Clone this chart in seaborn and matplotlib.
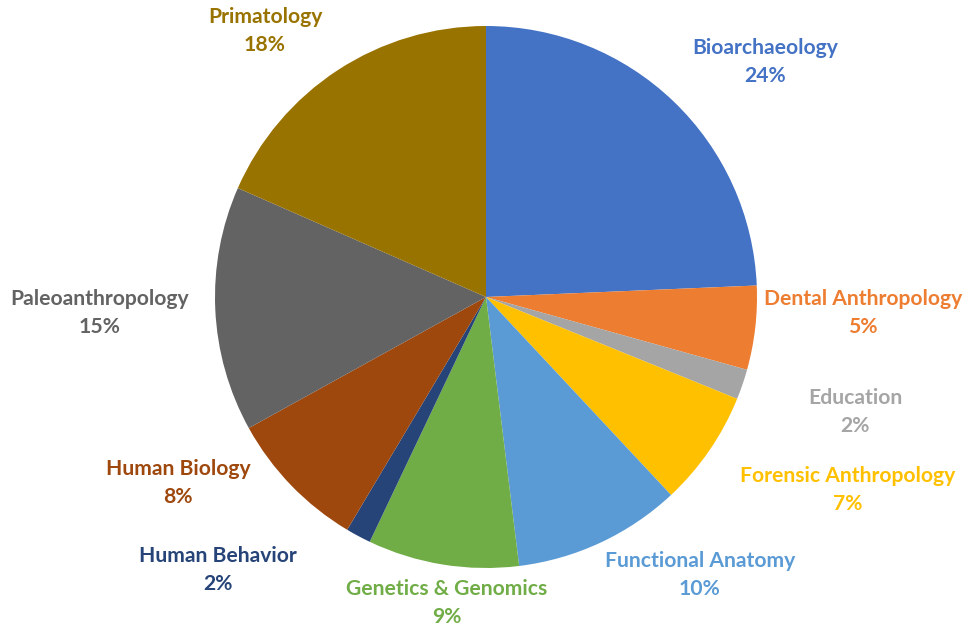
import matplotlib
matplotlib.use("Agg")
import matplotlib.pyplot as plt
import seaborn as sns

sns.set_theme(style="white")
plt.rcParams["font.family"] = ["Lato", "DejaVu Sans"]

# slice shares (clockwise from 12 o'clock)
fields = ["Bioarchaeology", "Dental Anthropology", "Education", "Forensic Anthropology",
          "Functional Anatomy", "Genetics & Genomics", "Human Behavior", "Human Biology",
          "Paleoanthropology", "Primatology"]
shares = [24.3, 5.0, 1.8, 6.9, 10.0, 9.0, 1.5, 8.4, 14.6, 18.4]
pct_labels = ["24%", "5%", "2%", "7%", "10%", "9%", "2%", "8%", "15%", "18%"]
colors = ["#4472C4", "#ED7D31", "#A5A5A5", "#FFC000", "#5B9BD5",
          "#70AD47", "#264478", "#9E480E", "#636363", "#997300"]

# label anchor points in pixel space (x, y from top)
label_pos = [(765, 62), (863, 313), (855, 412), (848, 490), (700, 575),
             (447, 603), (218, 570), (178, 483), (100, 313), (265, 31)]

W, H = 968, 633
fig = plt.figure(figsize=(W / 100, H / 100), dpi=100)
ax = fig.add_axes([0, 0, 1, 1])

ax.pie(shares, colors=colors, startangle=90, counterclock=False,
       center=(486, H - 297), radius=271,
       wedgeprops=dict(linewidth=0))

for name, pct, col, (x, y) in zip(fields, pct_labels, colors, label_pos):
    ax.text(x, H - y, f"{name}\n{pct}", color=col, fontsize=15.2, fontweight="bold",
            ha="center", va="center", linespacing=1.45)

ax.set_xlim(0, W)
ax.set_ylim(0, H)
ax.set_aspect("equal")
ax.axis("off")

fig.savefig("out.png", dpi=100)
